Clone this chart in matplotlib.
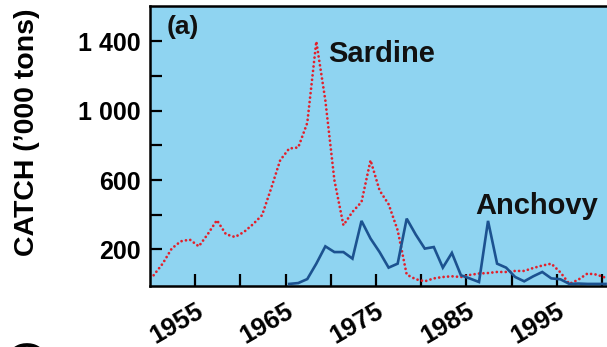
import numpy as np
import matplotlib
matplotlib.use("Agg")
import matplotlib.pyplot as plt
from matplotlib.ticker import FixedLocator

plt.rcParams['font.family'] = ['Liberation Sans', 'DejaVu Sans']
plt.rcParams['font.weight'] = 'bold'

# Annual catch, thousand tons
sardine_years = list(range(1950, 2001))
sardine_catch = [50, 117, 204, 246, 256, 217, 288, 368, 287, 271,
                 300, 345, 397, 551, 714, 782, 788, 930, 1400, 1060,
                 599, 339, 416, 473, 714, 540, 460, 310, 54, 27,
                 15, 32, 40, 44, 40, 52, 60, 63, 69, 69,
                 75, 75, 92, 106, 117, 67, 0, 25, 60, 54,
                 36]

anchovy_years = list(range(1965, 2001))
anchovy_catch = [0, 5, 28, 117, 217, 184, 184, 146, 364, 262,
                 184, 94, 117, 377, 285, 204, 213, 94, 179, 50,
                 31, 11, 364, 117, 94, 40, 15, 44, 69, 32,
                 27, 0, 2, 0, 0, 0]

y_major = [200, 600, 1000, 1400]
y_major_labels = ['200', '600', '1 000', '1 400']
y_minor = [400, 800, 1200]
x_major = [1955, 1965, 1975, 1985, 1995]
x_minor = [1960, 1970, 1980, 1990, 2000]

W, H = 607, 347
fig = plt.figure(figsize=(W / 100, H / 100), dpi=100)
ax = fig.add_axes([150 / W, 1 - 286 / H, 470 / W, 280 / H])
ax.set_facecolor('#8fd4f1')

# each year's total sits inside its year on the time axis
offset = 0.4
ax.plot(np.array(sardine_years) + offset, sardine_catch, color='#e2202b',
        lw=2.0, linestyle=(0, (0.01, 1.6)), dash_capstyle='round',
        solid_joinstyle='round', zorder=3)
ax.plot(np.array(anchovy_years) + offset, anchovy_catch, color='#1c5290',
        lw=1.9, solid_joinstyle='miter', zorder=4)

ax.set_xlim(1950, 2002)
ax.set_ylim(-12, 1605)

ax.yaxis.set_major_locator(FixedLocator(y_major))
ax.yaxis.set_minor_locator(FixedLocator(y_minor))
ax.set_yticklabels(y_major_labels)
ax.xaxis.set_major_locator(FixedLocator(x_major))
ax.xaxis.set_minor_locator(FixedLocator(x_minor))
ax.set_xticklabels([str(v) for v in x_major])

ax.tick_params(axis='both', which='both', direction='in', length=8.5,
               width=1.6, color='black')
ax.tick_params(axis='y', which='major', labelsize=18, pad=7)
ax.tick_params(axis='x', which='major', labelsize=18.5, pad=9)
ax.tick_params(top=False, right=False, which='both')
for lab in ax.get_xticklabels():
    lab.set_rotation(30)
    lab.set_ha('right')
    lab.set_rotation_mode('anchor')
    lab.set_fontweight('bold')
for lab in ax.get_yticklabels():
    lab.set_fontweight('bold')

for side in ['left', 'bottom', 'top', 'right']:
    ax.spines[side].set_linewidth(1.8)
    ax.spines[side].set_color('black')

ax.text(167 / W, 1 - 27 / H, '(a)', transform=fig.transFigure,
        fontsize=19, fontweight='bold', ha='left', va='center', color='#111111')
ax.text(328 / W, 1 - 54 / H, 'Sardine', transform=fig.transFigure,
        fontsize=21, fontweight='bold', ha='left', va='center', color='#111111')
ax.text(475 / W, 1 - 206 / H, 'Anchovy', transform=fig.transFigure,
        fontsize=21, fontweight='bold', ha='left', va='center', color='#111111')

fig.text(27 / W, 1 - 132 / H, "CATCH (\u2019000 tons)", rotation=90,
         fontsize=20.5, fontweight='bold', ha='center', va='center')
# closing parenthesis of the lower panel's axis title, running off the bottom
fig.text(28 / W, 1 - 345 / H, ")", rotation=90, fontsize=20,
         fontweight='bold', ha='center', va='center')

fig.savefig('out.png', dpi=100)
